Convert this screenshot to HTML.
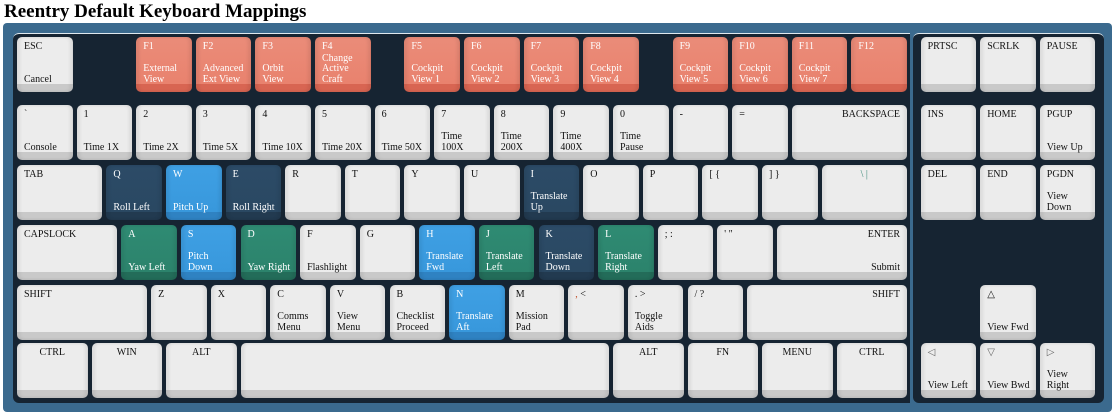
<!DOCTYPE html>
<html><head><meta charset="utf-8"><style>
body{margin:0;width:1115px;height:416px;background:#fff;position:relative;overflow:hidden;font-family:"Liberation Serif",serif;}
h1{position:absolute;left:4px;top:0;margin:0;font-size:19px;font-weight:bold;line-height:24px;color:#000;}
.frame{position:absolute;left:3px;top:23px;width:1109px;height:389px;background:#3b6a8e;border-radius:4px;}
.panel{position:absolute;background:#162432;border-top:1px solid #dfe8ee;}
.k{position:absolute;height:55px;border-radius:5px;font-size:10px;line-height:10.5px;color:#111;box-sizing:border-box;padding:5px 7px 0 7px;
background:linear-gradient(#ececec,#ececec) top/100% 47px no-repeat,#c9c9c9;
box-shadow:inset 3px 0 3px rgba(0,0,0,.07),inset -3px 0 3px rgba(0,0,0,.07);}
.k .b{position:absolute;left:7px;bottom:7px;right:5px;}
.r{background:linear-gradient(#ea8c79,#e9826e) top/100% 47px no-repeat,#d86552;color:#fff;}
.n{background:linear-gradient(#2c4b67,#2a4862) top/100% 47px no-repeat,#223a50;color:#fff;}
.l{background:linear-gradient(#3fa0e4,#3898dc) top/100% 47px no-repeat,#2f82c2;color:#fff;}
.t{background:linear-gradient(#2f8b73,#2c836c) top/100% 47px no-repeat,#236c59;color:#fff;}
.c{text-align:center;padding-left:0;padding-right:0}
.rt{text-align:right;padding-right:7px}
.rt .b{left:auto;right:7px}
</style></head><body>
<h1>Reentry Default Keyboard Mappings</h1>
<div class="frame"></div>
<div class="panel" style="left:13px;top:33px;width:897px;height:369px;border-radius:6px 0 0 6px;"></div>
<div class="panel" style="left:913px;top:33px;width:191px;height:369px;border-radius:6px 6px 6px 6px;"></div>

<!-- row1 -->
<div class="k" style="left:17px;top:37px;width:55.6px">ESC<div class="b">Cancel</div></div>
<div class="k r" style="left:136.2px;top:37px;width:55.6px">F1<div class="b">External<br>View</div></div>
<div class="k r" style="left:195.8px;top:37px;width:55.6px">F2<div class="b">Advanced<br>Ext View</div></div>
<div class="k r" style="left:255.4px;top:37px;width:55.6px">F3<div class="b">Orbit<br>View</div></div>
<div class="k r" style="left:315px;top:37px;width:55.6px">F4<div class="b">Change<br>Active<br>Craft</div></div>
<div class="k r" style="left:404.4px;top:37px;width:55.6px">F5<div class="b">Cockpit<br>View 1</div></div>
<div class="k r" style="left:464px;top:37px;width:55.6px">F6<div class="b">Cockpit<br>View 2</div></div>
<div class="k r" style="left:523.6px;top:37px;width:55.6px">F7<div class="b">Cockpit<br>View 3</div></div>
<div class="k r" style="left:583.2px;top:37px;width:55.6px">F8<div class="b">Cockpit<br>View 4</div></div>
<div class="k r" style="left:672.6px;top:37px;width:55.6px">F9<div class="b">Cockpit<br>View 5</div></div>
<div class="k r" style="left:732.2px;top:37px;width:55.6px">F10<div class="b">Cockpit<br>View 6</div></div>
<div class="k r" style="left:791.8px;top:37px;width:55.6px">F11<div class="b">Cockpit<br>View 7</div></div>
<div class="k r" style="left:851.4px;top:37px;width:55.6px">F12</div>
<div class="k" style="left:920.6px;top:37px;width:55.6px">PRTSC</div>
<div class="k" style="left:980.2px;top:37px;width:55.6px">SCRLK</div>
<div class="k" style="left:1039.8px;top:37px;width:55.6px">PAUSE</div>

<!-- row2 -->
<div class="k" style="left:17px;top:105px;width:55.6px">`<div class="b">Console</div></div>
<div class="k" style="left:76.6px;top:105px;width:55.6px">1<div class="b">Time 1X</div></div>
<div class="k" style="left:136.2px;top:105px;width:55.6px">2<div class="b">Time 2X</div></div>
<div class="k" style="left:195.8px;top:105px;width:55.6px">3<div class="b">Time 5X</div></div>
<div class="k" style="left:255.4px;top:105px;width:55.6px">4<div class="b">Time 10X</div></div>
<div class="k" style="left:315px;top:105px;width:55.6px">5<div class="b">Time 20X</div></div>
<div class="k" style="left:374.6px;top:105px;width:55.6px">6<div class="b">Time 50X</div></div>
<div class="k" style="left:434.2px;top:105px;width:55.6px">7<div class="b">Time<br>100X</div></div>
<div class="k" style="left:493.8px;top:105px;width:55.6px">8<div class="b">Time<br>200X</div></div>
<div class="k" style="left:553.4px;top:105px;width:55.6px">9<div class="b">Time<br>400X</div></div>
<div class="k" style="left:613px;top:105px;width:55.6px">0<div class="b">Time<br>Pause</div></div>
<div class="k" style="left:672.6px;top:105px;width:55.6px">-</div>
<div class="k" style="left:732.2px;top:105px;width:55.6px">=</div>
<div class="k rt" style="left:791.8px;top:105px;width:115.2px">BACKSPACE</div>
<div class="k" style="left:920.6px;top:105px;width:55.6px">INS</div>
<div class="k" style="left:980.2px;top:105px;width:55.6px">HOME</div>
<div class="k" style="left:1039.8px;top:105px;width:55.6px">PGUP<div class="b">View Up</div></div>

<!-- row3 -->
<div class="k" style="left:17px;top:165px;width:85.4px">TAB</div>
<div class="k n" style="left:106.4px;top:165px;width:55.6px">Q<div class="b">Roll Left</div></div>
<div class="k l" style="left:166px;top:165px;width:55.6px">W<div class="b">Pitch Up</div></div>
<div class="k n" style="left:225.6px;top:165px;width:55.6px">E<div class="b">Roll Right</div></div>
<div class="k" style="left:285.2px;top:165px;width:55.6px">R</div>
<div class="k" style="left:344.8px;top:165px;width:55.6px">T</div>
<div class="k" style="left:404.4px;top:165px;width:55.6px">Y</div>
<div class="k" style="left:464px;top:165px;width:55.6px">U</div>
<div class="k n" style="left:523.6px;top:165px;width:55.6px">I<div class="b">Translate<br>Up</div></div>
<div class="k" style="left:583.2px;top:165px;width:55.6px">O</div>
<div class="k" style="left:642.8px;top:165px;width:55.6px">P</div>
<div class="k" style="left:702.4px;top:165px;width:55.6px">[ {</div>
<div class="k" style="left:762px;top:165px;width:55.6px">] }</div>
<div class="k c" style="left:821.6px;top:165px;width:85.4px;color:#3a8a78">\ |</div>
<div class="k" style="left:920.6px;top:165px;width:55.6px">DEL</div>
<div class="k" style="left:980.2px;top:165px;width:55.6px">END</div>
<div class="k" style="left:1039.8px;top:165px;width:55.6px">PGDN<div class="b">View<br>Down</div></div>

<!-- row4 -->
<div class="k" style="left:17px;top:225px;width:100.3px">CAPSLOCK</div>
<div class="k t" style="left:121.3px;top:225px;width:55.6px">A<div class="b">Yaw Left</div></div>
<div class="k l" style="left:180.9px;top:225px;width:55.6px">S<div class="b">Pitch<br>Down</div></div>
<div class="k t" style="left:240.5px;top:225px;width:55.6px">D<div class="b">Yaw Right</div></div>
<div class="k" style="left:300.1px;top:225px;width:55.6px">F<div class="b">Flashlight</div></div>
<div class="k" style="left:359.7px;top:225px;width:55.6px">G</div>
<div class="k l" style="left:419.3px;top:225px;width:55.6px">H<div class="b">Translate<br>Fwd</div></div>
<div class="k t" style="left:478.9px;top:225px;width:55.6px">J<div class="b">Translate<br>Left</div></div>
<div class="k n" style="left:538.5px;top:225px;width:55.6px">K<div class="b">Translate<br>Down</div></div>
<div class="k t" style="left:598.1px;top:225px;width:55.6px">L<div class="b">Translate<br>Right</div></div>
<div class="k" style="left:657.7px;top:225px;width:55.6px">; :</div>
<div class="k" style="left:717.3px;top:225px;width:55.6px">' "</div>
<div class="k rt" style="left:776.9px;top:225px;width:130.1px">ENTER<div class="b">Submit</div></div>

<!-- row5 -->
<div class="k" style="left:17px;top:285px;width:130.1px">SHIFT</div>
<div class="k" style="left:151.1px;top:285px;width:55.6px">Z</div>
<div class="k" style="left:210.7px;top:285px;width:55.6px">X</div>
<div class="k" style="left:270.3px;top:285px;width:55.6px">C<div class="b">Comms<br>Menu</div></div>
<div class="k" style="left:329.9px;top:285px;width:55.6px">V<div class="b">View<br>Menu</div></div>
<div class="k" style="left:389.5px;top:285px;width:55.6px">B<div class="b">Checklist<br>Proceed</div></div>
<div class="k l" style="left:449.1px;top:285px;width:55.6px">N<div class="b">Translate<br>Aft</div></div>
<div class="k" style="left:508.7px;top:285px;width:55.6px">M<div class="b">Mission<br>Pad</div></div>
<div class="k" style="left:568.3px;top:285px;width:55.6px"><span style="color:#c0502a">,</span> &lt;</div>
<div class="k" style="left:627.9px;top:285px;width:55.6px">. &gt;<div class="b">Toggle<br>Aids</div></div>
<div class="k" style="left:687.5px;top:285px;width:55.6px">/ ?</div>
<div class="k rt" style="left:747.1px;top:285px;width:159.9px">SHIFT</div>
<div class="k" style="left:980.2px;top:285px;width:55.6px">&#9651;<div class="b">View Fwd</div></div>

<!-- row6 -->
<div class="k c" style="left:17px;top:343px;width:70.5px">CTRL</div>
<div class="k c" style="left:91.5px;top:343px;width:70.5px">WIN</div>
<div class="k c" style="left:166px;top:343px;width:70.5px">ALT</div>
<div class="k" style="left:240.5px;top:343px;width:368.5px"></div>
<div class="k c" style="left:613px;top:343px;width:70.5px">ALT</div>
<div class="k c" style="left:687.5px;top:343px;width:70.5px">FN</div>
<div class="k c" style="left:762px;top:343px;width:70.5px">MENU</div>
<div class="k c" style="left:836.5px;top:343px;width:70.5px">CTRL</div>
<div class="k" style="left:920.6px;top:343px;width:55.6px"><span style="color:#666">&#9665;</span><div class="b">View Left</div></div>
<div class="k" style="left:980.2px;top:343px;width:55.6px"><span style="color:#666">&#9661;</span><div class="b">View Bwd</div></div>
<div class="k" style="left:1039.8px;top:343px;width:55.6px"><span style="color:#666">&#9655;</span><div class="b">View<br>Right</div></div>
</body></html>
